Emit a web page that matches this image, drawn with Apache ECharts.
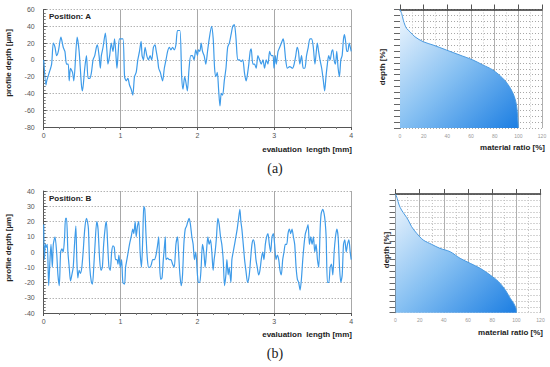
<!DOCTYPE html>
<html><head><meta charset="utf-8">
<script src="https://cdn.jsdelivr.net/npm/echarts@6/dist/echarts.min.js"></script>
<style>html,body{margin:0;padding:0;background:#fff}#c{width:550px;height:367px}</style>
</head><body><div id="c"></div>
<script>
// ---- Profile A (evaluation length [mm], profile depth [µm]) ----
const lengthA = [0.000,0.030,0.039,0.073,0.103,0.125,0.147,0.168,0.190,0.224,0.254,0.276,0.297,0.319,0.332,0.349,0.375,0.392,0.435,0.461,0.491,0.504,0.534,0.556,0.578,0.599,0.621,0.642,0.664,0.685,0.698,0.720,0.737,0.750,0.772,0.802,0.823,0.836,0.858,0.879,0.901,0.922,0.944,0.953,0.970,0.987,1.030,1.052,1.073,1.095,1.116,1.138,1.159,1.181,1.203,1.224,1.246,1.267,1.280,1.297,1.319,1.341,1.362,1.384,1.405,1.427,1.448,1.461,1.483,1.496,1.517,1.547,1.569,1.591,1.612,1.634,1.655,1.677,1.698,1.720,1.741,1.772,1.795,1.812,1.834,1.856,1.869,1.891,1.913,1.934,1.956,1.978,2.000,2.013,2.031,2.048,2.066,2.087,2.109,2.131,2.153,2.183,2.205,2.223,2.240,2.258,2.275,2.293,2.310,2.328,2.349,2.371,2.393,2.415,2.437,2.459,2.480,2.502,2.524,2.546,2.568,2.590,2.611,2.633,2.646,2.668,2.686,2.699,2.721,2.742,2.764,2.786,2.808,2.830,2.852,2.873,2.895,2.917,2.939,2.961,2.983,2.996,3.013,3.026,3.048,3.070,3.092,3.114,3.127,3.148,3.170,3.201,3.236,3.258,3.279,3.297,3.314,3.332,3.354,3.376,3.397,3.419,3.441,3.463,3.485,3.507,3.528,3.541,3.559,3.576,3.594,3.616,3.638,3.655,3.672,3.690,3.707,3.725,3.747,3.760,3.777,3.795,3.812,3.830,3.847,3.865,3.882,3.900,3.913,3.930,3.943,3.956,3.974,4.000];
const depthA = [0,-30,-25,-15,-5,20,15,5,10,27,15,10,-5,-5,-25,-10,-15,-25,27,10,-30,-37,-10,5,-22,-22,-15,0,5,15,18,5,-10,5,15,32,10,-5,5,20,10,25,0,-10,10,25,25,-20,-25,-22,-30,-35,-42,-20,-15,0,10,22,5,0,15,5,0,5,0,15,18,12,0,-10,-15,-25,-10,0,10,15,12,15,12,18,35,35,-20,-35,-20,-30,-37,-10,5,5,0,12,5,12,10,20,10,5,-5,10,25,40,25,-10,-20,-15,-35,-55,-40,-42,-25,-10,15,20,30,40,42,25,0,0,-2,0,-15,-25,-20,-5,10,13,-5,-5,-10,5,0,-5,0,-10,0,-5,10,5,5,-10,5,-5,10,15,20,25,20,0,-10,-8,-10,-5,5,15,10,-5,5,-10,-10,5,15,25,25,15,-5,5,20,10,0,-10,-25,-37,-20,-5,5,0,10,12,0,-5,10,-10,-20,0,5,25,30,20,10,10,20,10];

// ---- Profile B ----
const lengthB = [0.000,0.009,0.022,0.034,0.047,0.065,0.082,0.095,0.112,0.125,0.147,0.168,0.185,0.203,0.220,0.237,0.254,0.272,0.284,0.297,0.315,0.332,0.349,0.366,0.384,0.401,0.418,0.431,0.444,0.461,0.478,0.496,0.513,0.534,0.556,0.569,0.582,0.599,0.621,0.634,0.651,0.668,0.690,0.707,0.728,0.746,0.763,0.780,0.802,0.815,0.832,0.849,0.866,0.884,0.901,0.918,0.935,0.953,0.966,0.978,0.996,1.013,1.030,1.052,1.065,1.082,1.099,1.116,1.138,1.159,1.172,1.190,1.203,1.220,1.237,1.254,1.272,1.289,1.302,1.315,1.332,1.349,1.366,1.384,1.401,1.418,1.440,1.461,1.483,1.496,1.509,1.522,1.539,1.556,1.573,1.582,1.591,1.612,1.634,1.655,1.677,1.698,1.720,1.741,1.754,1.772,1.789,1.806,1.823,1.841,1.858,1.875,1.892,1.909,1.927,1.944,1.961,1.978,2.000,2.013,2.030,2.048,2.065,2.083,2.100,2.117,2.135,2.152,2.170,2.187,2.204,2.217,2.230,2.248,2.265,2.283,2.300,2.317,2.335,2.352,2.370,2.383,2.400,2.413,2.435,2.448,2.465,2.483,2.500,2.517,2.535,2.552,2.565,2.578,2.596,2.613,2.630,2.652,2.674,2.691,2.709,2.726,2.743,2.761,2.778,2.796,2.813,2.830,2.848,2.865,2.883,2.900,2.917,2.935,2.952,2.970,2.987,3.004,3.022,3.039,3.057,3.074,3.091,3.109,3.126,3.143,3.161,3.178,3.196,3.213,3.230,3.248,3.265,3.283,3.300,3.317,3.335,3.352,3.370,3.387,3.404,3.422,3.439,3.457,3.474,3.491,3.509,3.526,3.543,3.561,3.578,3.596,3.609,3.630,3.648,3.661,3.674,3.691,3.709,3.726,3.743,3.761,3.778,3.796,3.813,3.830,3.848,3.865,3.883,3.900,3.917,3.935,3.952,3.970,3.987,4.000];
const depthB = [18,-5,5,3,5,-22,-5,5,-10,5,10,0,-15,-22,0,2,0,10,22,22,0,-10,-19,-15,-10,5,17,-5,-17,-12,-14,-10,0,15,22,20,15,-10,-20,-21,-10,5,20,15,-5,-12,-10,5,17,20,5,-10,-12,0,4,3,-5,-5,-8,-2,-10,-5,-20,-21,-10,-5,0,5,10,15,12,20,10,17,20,0,-10,10,30,28,10,-5,-10,-10,-8,-5,-5,-2,5,10,-10,-18,-17,-5,5,10,-5,-4,-5,-5,-8,-10,5,10,0,-15,-22,-15,5,15,17,20,22,18,10,5,-5,0,-15,-20,-20,-10,5,0,-10,0,10,5,8,0,-12,-5,0,10,22,18,10,5,-5,-22,-15,-5,-15,-10,-20,-5,0,5,10,15,22,28,20,15,5,-5,-12,-20,-15,-5,5,8,5,-5,-10,-15,-12,-5,0,-5,5,10,12,5,0,10,12,5,-5,-2,-5,-12,-15,-5,0,5,5,12,15,12,15,10,5,-10,-18,-20,-25,-18,-5,5,12,15,18,5,10,5,10,0,5,-5,-10,15,25,28,25,20,10,-20,-20,-10,-8,-15,0,10,15,10,-10,-20,-15,5,8,0,5,8,0,-5];

// ---- Material ratio (Abbott) curves: material ratio [%] vs depth [%] ----
const ratioA = [0,1.4,2.8,4.2,5.6,8.4,12.6,19.6,28,39.2,50.4,61.6,70,78.4,86.8,92.4,96.6,98.6,99.4,100];
const mrDepthA = [0,3.4,9,13.2,16,18.8,23,27.2,30,34.2,38.4,42.6,46.8,51,58,65,73.4,81.8,90.2,100];
const ratioB = [0,1.4,3,5,7.8,10.5,13.3,17.5,23,29.9,36.8,45.2,53.5,61.8,70.1,78.4,85.3,90.9,95,97.8,99.7,100];
const mrDepthB = [0,3.7,9.3,13.5,17.7,21.9,27.5,33.1,38.8,42.4,45.8,48.6,54.2,58.4,62.6,68.3,73.9,80.9,87.9,92.1,96.3,100];

const profileTicksA = {min:-80,max:60,interval:20};
const profileTicksB = {min:-40,max:40,interval:10};

const zip = (xs, ys) => xs.map((x,i)=>[x, ys[i]]);
const FONT = 'Arial, "Liberation Sans", sans-serif';
const BLUE = '#3e9be9';

function profX(gi){
  return {gridIndex:gi,type:'value',min:0,max:4,interval:1,
    axisLine:{show:true,onZero:false,lineStyle:{color:'#555',width:1}},
    axisTick:{show:true,length:3,lineStyle:{color:'#555'}},
    minorTick:{show:true,splitNumber:5,length:2,lineStyle:{color:'#777'}},
    axisLabel:{fontSize:7,color:'#555',fontFamily:FONT,margin:5},
    splitLine:{show:true,lineStyle:{color:'#a8a8a8',width:1}}};
}
function profY(gi,t){
  return {gridIndex:gi,type:'value',min:t.min,max:t.max,interval:t.interval,
    axisLine:{show:true,lineStyle:{color:'#555',width:1}},
    axisTick:{show:true,inside:true,length:3,lineStyle:{color:'#555'}},
    minorTick:{show:true,splitNumber:5,length:2,lineStyle:{color:'#777'}},
    axisLabel:{fontSize:7,color:'#555',fontFamily:FONT,margin:9},
    splitLine:{show:true,lineStyle:{color:'#909090',width:1,type:[1,2]}}};
}
function mrX(gi){
  return {gridIndex:gi,type:'value',min:0,max:120,interval:20,
    axisLine:{show:true,lineStyle:{color:'#333',width:1.5}},
    axisTick:{show:true,inside:true,length:5,lineStyle:{color:'#555'}},
    axisLabel:{fontSize:5,color:'#999',fontFamily:FONT,margin:5},
    splitLine:{show:true,lineStyle:{color:'#b0b0b0',width:1}},
    minorTick:{show:true,splitNumber:2,length:0},
    minorSplitLine:{show:true,lineStyle:{color:'#c4c4c4',type:[1,2]}}};
}
function mrY(gi){
  return {gridIndex:gi,type:'value',min:0,max:100,interval:5,inverse:true,
    axisLine:{show:true,lineStyle:{color:'#555',width:1}},
    axisTick:{show:true,length:6,lineStyle:{color:'#666'}},
    axisLabel:{show:false},
    splitLine:{show:true,lineStyle:{color:'#a8a8a8',width:1,type:[1,2]}}};
}
const grad = {type:'linear',x:0,y:0,x2:1,y2:1,colorStops:[{offset:0,color:'#f2f8fe'},{offset:0.5,color:'#86c0f2'},{offset:1,color:'#1c7ee2'}]};

const chart = echarts.init(document.getElementById('c'), null, {renderer:'svg'});
chart.setOption({
  animation:false,
  grid:[
    {left:43.7,top:9.5,width:307.5,height:117.5},
    {left:400,top:9.5,width:142,height:118.5},
    {left:43.7,top:191,width:307.5,height:122},
    {left:395.5,top:194,width:145,height:118.7}
  ],
  xAxis:[profX(0),mrX(1),profX(2),mrX(3)],
  yAxis:[profY(0,profileTicksA),mrY(1),profY(2,profileTicksB),mrY(3)],
  series:[
    {type:'line',xAxisIndex:0,yAxisIndex:0,data:zip(lengthA,depthA),showSymbol:false,smooth:0.25,lineStyle:{color:BLUE,width:1.2}},
    {type:'line',xAxisIndex:1,yAxisIndex:1,data:zip(ratioA,mrDepthA),showSymbol:false,smooth:0.3,
      lineStyle:{color:'#4a9ae0',width:1},areaStyle:{color:grad,opacity:1,origin:'end'}},
    {type:'line',xAxisIndex:2,yAxisIndex:2,data:zip(lengthB,depthB),showSymbol:false,smooth:0.25,lineStyle:{color:BLUE,width:1.2}},
    {type:'line',xAxisIndex:3,yAxisIndex:3,data:zip(ratioB,mrDepthB),showSymbol:false,smooth:0.3,
      lineStyle:{color:'#4a9ae0',width:1},areaStyle:{color:grad,opacity:1,origin:'end'}}
  ],
  graphic:[
    {type:'text',left:49,top:12,style:{text:'Position: A',font:'bold 8px '+FONT,fill:'#222'}},
    {type:'text',left:49,top:194,style:{text:'Position: B',font:'bold 8px '+FONT,fill:'#222'}},
    {type:'text',x:8,y:63,rotation:Math.PI/2,style:{text:'profile depth [µm]',font:'bold 8px '+FONT,fill:'#222',align:'center',verticalAlign:'middle'}},
    {type:'text',x:8,y:248,rotation:Math.PI/2,style:{text:'profile depth [µm]',font:'bold 8px '+FONT,fill:'#222',align:'center',verticalAlign:'middle'}},
    {type:'text',x:352,y:149,style:{text:'evaluation  length [mm]',font:'bold 8px '+FONT,fill:'#222',align:'right',verticalAlign:'middle'}},
    {type:'text',x:352,y:334,style:{text:'evaluation  length [mm]',font:'bold 8px '+FONT,fill:'#222',align:'right',verticalAlign:'middle'}},
    {type:'text',x:382,y:67,rotation:Math.PI/2,style:{text:'depth [%]',font:'bold 8px '+FONT,fill:'#222',align:'center',verticalAlign:'middle'}},
    {type:'text',x:386,y:250,rotation:Math.PI/2,style:{text:'depth [%]',font:'bold 8px '+FONT,fill:'#222',align:'center',verticalAlign:'middle'}},
    {type:'text',x:545,y:147,style:{text:'material ratio [%]',font:'bold 8px '+FONT,fill:'#222',align:'right',verticalAlign:'middle'}},
    {type:'text',x:543,y:332,style:{text:'material ratio [%]',font:'bold 8px '+FONT,fill:'#222',align:'right',verticalAlign:'middle'}},
    {type:'text',x:275,y:168,style:{text:'(a)',font:'14px "Liberation Serif", serif',fill:'#222',align:'center',verticalAlign:'middle'}},
    {type:'text',x:275,y:353,style:{text:'(b)',font:'14px "Liberation Serif", serif',fill:'#222',align:'center',verticalAlign:'middle'}}
  ]
});
</script></body></html>
